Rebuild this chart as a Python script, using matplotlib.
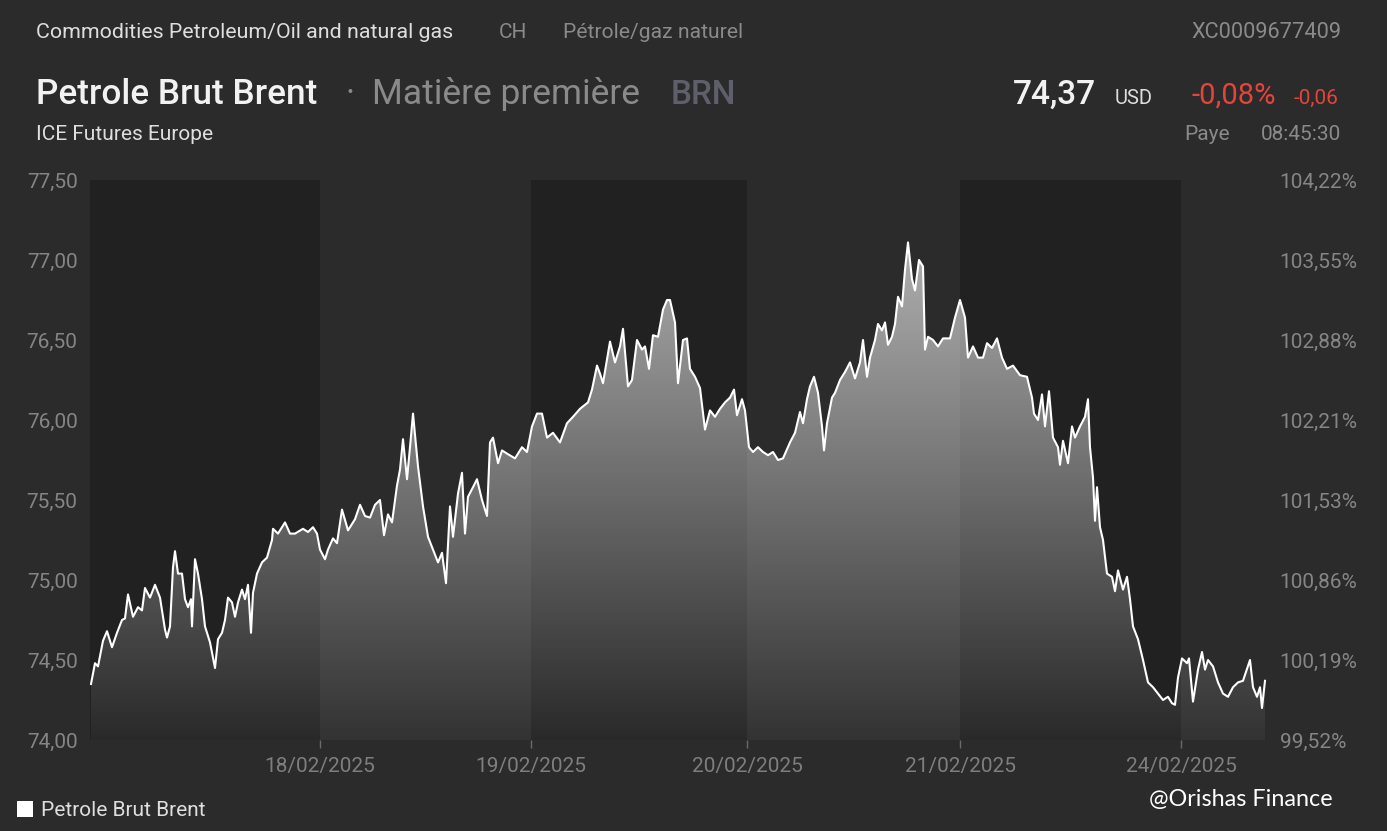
import numpy as np
import matplotlib
matplotlib.use("Agg")
import matplotlib.pyplot as plt
from matplotlib.patches import Polygon, Rectangle
from matplotlib.ticker import FixedLocator, FuncFormatter

plt.rcParams['font.family'] = ['Roboto', 'DejaVu Sans']

# trading time in ~6 minute steps since the 17/02 open, and Brent price (USD)
t = [1, 5, 8, 13, 17, 22, 27, 32, 35, 38, 43, 48, 52, 55, 60, 65, 70, 75, 77, 80,
     83, 85, 88, 92, 95, 98, 101, 102, 105, 108, 112, 115, 120, 125, 128, 132, 135, 138, 142, 145,
     148, 152, 155, 158, 161, 163, 167, 172, 177, 182, 183, 188, 195, 200, 205, 213, 218, 223, 227, 230,
     235, 238, 243, 247, 252, 258, 265, 270, 275, 280, 285, 290, 294, 298, 302, 307, 310, 313, 317, 320,
     323, 328, 333, 338, 343, 348, 352, 356, 360, 363, 368, 372, 375, 378, 383, 387, 392, 397, 400, 403,
     408, 412, 417, 425, 432, 437, 442, 447, 452, 457, 463, 470, 477, 483, 490, 498, 502, 507, 510, 513,
     517, 520, 525, 530, 533, 538, 542, 547, 552, 555, 559, 563, 568, 573, 577, 580, 585, 588, 593, 597,
     600, 605, 610, 615, 620, 625, 630, 635, 640, 644, 647, 652, 655, 659, 663, 668, 673, 678, 683, 688,
     693, 700, 705, 710, 713, 717, 720, 724, 728, 732, 734, 737, 742, 745, 750, 755, 760, 765, 770, 773,
     777, 780, 785, 788, 792, 795, 798, 802, 805, 808, 812, 815, 818, 822, 825, 829, 833, 835, 838, 843,
     848, 853, 860, 865, 870, 875, 878, 883, 888, 893, 897, 902, 907, 912, 917, 923, 930, 937, 942, 944,
     948, 952, 955, 959, 963, 968, 970, 973, 978, 982, 985, 990, 995, 998, 1000, 1003, 1005, 1007, 1010, 1013,
     1017, 1022, 1025, 1028, 1033, 1037, 1040, 1043, 1048, 1053, 1058, 1063, 1068, 1073, 1078, 1082, 1085, 1088, 1092, 1097,
     1099, 1103, 1108, 1112, 1115, 1118, 1123, 1128, 1133, 1138, 1143, 1148, 1153, 1160, 1163, 1167, 1170, 1172, 1175]
price = [74.35, 74.48, 74.46, 74.62, 74.68, 74.58, 74.67, 74.75, 74.76, 74.91, 74.77, 74.83, 74.81, 74.95, 74.89, 74.97, 74.89, 74.69, 74.64, 74.71,
         75.08, 75.18, 75.04, 75.04, 74.88, 74.83, 74.88, 74.71, 75.13, 75.04, 74.88, 74.71, 74.61, 74.45, 74.63, 74.67, 74.75, 74.89, 74.86, 74.77,
         74.86, 74.94, 74.88, 74.97, 74.67, 74.92, 75.04, 75.11, 75.14, 75.25, 75.32, 75.29, 75.36, 75.29, 75.29, 75.32, 75.30, 75.33, 75.29, 75.19,
         75.13, 75.19, 75.26, 75.23, 75.44, 75.31, 75.38, 75.47, 75.40, 75.39, 75.47, 75.50, 75.28, 75.41, 75.36, 75.59, 75.69, 75.88, 75.63, 75.83,
         76.04, 75.71, 75.46, 75.27, 75.19, 75.11, 75.17, 74.98, 75.46, 75.27, 75.54, 75.67, 75.29, 75.52, 75.58, 75.63, 75.50, 75.40, 75.86, 75.89,
         75.73, 75.81, 75.79, 75.76, 75.83, 75.80, 75.96, 76.04, 76.04, 75.89, 75.92, 75.86, 75.98, 76.02, 76.07, 76.11, 76.19, 76.34, 76.29, 76.23,
         76.38, 76.49, 76.36, 76.46, 76.57, 76.21, 76.25, 76.50, 76.44, 76.46, 76.32, 76.53, 76.52, 76.69, 76.75, 76.75, 76.61, 76.23, 76.50, 76.51,
         76.32, 76.27, 76.20, 75.94, 76.06, 76.02, 76.07, 76.11, 76.14, 76.19, 76.03, 76.13, 76.06, 75.83, 75.80, 75.83, 75.80, 75.78, 75.80, 75.75,
         75.76, 75.86, 75.92, 76.05, 75.98, 76.13, 76.21, 76.27, 76.17, 75.96, 75.81, 75.98, 76.14, 76.17, 76.25, 76.30, 76.36, 76.26, 76.36, 76.50,
         76.27, 76.39, 76.50, 76.60, 76.56, 76.61, 76.47, 76.52, 76.60, 76.77, 76.71, 76.94, 77.11, 76.88, 76.81, 77.00, 76.96, 76.44, 76.52, 76.50,
         76.46, 76.51, 76.51, 76.64, 76.75, 76.64, 76.39, 76.46, 76.39, 76.39, 76.48, 76.45, 76.51, 76.39, 76.32, 76.34, 76.28, 76.27, 76.14, 76.04,
         76.00, 76.16, 75.96, 76.18, 75.89, 75.83, 75.72, 75.87, 75.73, 75.96, 75.89, 75.96, 76.02, 76.13, 75.83, 75.64, 75.37, 75.58, 75.33, 75.25,
         75.04, 75.02, 74.93, 75.06, 74.94, 75.02, 74.88, 74.71, 74.63, 74.50, 74.36, 74.33, 74.29, 74.25, 74.27, 74.23, 74.22, 74.39, 74.51, 74.48,
         74.51, 74.24, 74.44, 74.55, 74.44, 74.50, 74.46, 74.36, 74.29, 74.27, 74.33, 74.36, 74.37, 74.50, 74.33, 74.27, 74.33, 74.20, 74.37]

session_edges = [0, 230, 441, 657, 870, 1091, 1177]
day_labels = ['18/02/2025', '19/02/2025', '20/02/2025', '21/02/2025', '24/02/2025']
y_ticks = [74.0, 74.5, 75.0, 75.5, 76.0, 76.5, 77.0, 77.5]
ref_price = 74.36

BG = '#2b2b2b'
DARK = '#212121'
W, H = 1387, 831

fig = plt.figure(figsize=(W / 100, H / 100), dpi=100, facecolor=BG)


def px(x, y):
    return x / W, 1 - y / H


ax = fig.add_axes([90 / W, 1 - 740 / H, (1267 - 90) / W, (740 - 180) / H])
ax.set_facecolor(BG)
ax.set_xlim(session_edges[0], session_edges[-1])
ax.set_ylim(y_ticks[0], y_ticks[-1])

# alternating day bands
for i in range(len(session_edges) - 1):
    if i % 2 == 0:
        ax.axvspan(session_edges[i], session_edges[i + 1], color=DARK, lw=0, zorder=0)

# gradient fill under the line
grad = np.zeros((256, 1, 4))
grad[..., :3] = 1.0
grad[:, 0, 3] = np.linspace(0.04, 0.70, 256)
im = ax.imshow(grad, origin='lower', aspect='auto', zorder=2,
               extent=[session_edges[0], session_edges[-1], y_ticks[0], y_ticks[-1]])
verts = np.column_stack([np.r_[t[0], t, t[-1]], np.r_[y_ticks[0], price, y_ticks[0]]])
clip = Polygon(verts, closed=True, facecolor='none', edgecolor='none')
ax.add_patch(clip)
im.set_clip_path(clip)

ax.plot(t, price, color='white', lw=1.5, zorder=3, solid_joinstyle='round')

for s in ax.spines.values():
    s.set_visible(False)

ax.set_xticks(session_edges[1:-1])
ax.set_xticklabels(day_labels)
ax.tick_params(axis='x', length=6, width=1, color='#6a6a6a', labelcolor='#7e7e7e',
               labelsize=15, pad=6)
ax.set_yticks(y_ticks)
ax.set_yticklabels([f'{v:.2f}'.replace('.', ',') for v in y_ticks])
ax.tick_params(axis='y', length=0, labelcolor='#858585', labelsize=15, pad=9)

sec = ax.secondary_yaxis('right', functions=(lambda v: v / ref_price * 100,
                                             lambda p: p * ref_price / 100))
sec.yaxis.set_major_locator(FixedLocator([v / ref_price * 100 for v in y_ticks]))
sec.yaxis.set_major_formatter(FuncFormatter(lambda p, _: f'{p:.2f}%'.replace('.', ',')))
sec.tick_params(length=0, labelcolor='#858585', labelsize=15, pad=9)
for s in sec.spines.values():
    s.set_visible(False)

# header
LIGHT = '#dedede'
GRAY = '#8a8a8a'
fig.text(*px(36, 38), 'Commodities Petroleum/Oil and natural gas', color=LIGHT, fontsize=15.4, va='baseline')
fig.text(*px(499, 38), 'CH', color=GRAY, fontsize=15, va='baseline')
fig.text(*px(563, 38), 'Pétrole/gaz naturel', color=GRAY, fontsize=15.2, va='baseline')
fig.text(*px(1341, 38), 'XC0009677409', color=GRAY, fontsize=15.7, va='baseline', ha='right')

fig.text(*px(36, 104), 'Petrole Brut Brent', color='#f2f2f2', fontsize=25.3, fontweight='medium', va='baseline')
fig.text(*px(346, 104), '·', color=GRAY, fontsize=25, va='baseline')
fig.text(*px(372, 104), 'Matière première', color=GRAY, fontsize=25.5, va='baseline')
fig.text(*px(671, 104), 'BRN', color='#5f5e6b', fontsize=24, fontweight='medium', va='baseline')
fig.text(*px(1096, 104), '74,37', color='#f2f2f2', fontsize=24, fontweight='medium', va='baseline', ha='right')
fig.text(*px(1115, 104), 'USD', color=LIGHT, fontsize=14.5, va='baseline')
fig.text(*px(1276, 104), '-0,08%', color='#e4443a', fontsize=21, va='baseline', ha='right')
fig.text(*px(1338, 104), '-0,06', color='#e4443a', fontsize=15, va='baseline', ha='right')

fig.text(*px(36, 140), 'ICE Futures Europe', color=LIGHT, fontsize=15, va='baseline')
fig.text(*px(1184, 140), 'Paye', color=GRAY, fontsize=15, va='baseline')
fig.text(*px(1341, 140), '08:45:30', color=GRAY, fontsize=15, va='baseline', ha='right')

# legend
fig.patches.append(Rectangle(px(17, 817), 16 / W, 16 / H, transform=fig.transFigure,
                             facecolor='white', edgecolor='none'))
fig.text(*px(41, 816), 'Petrole Brut Brent', color=LIGHT, fontsize=15, va='baseline')

fig.text(*px(1149, 806), '@Orishas Finance', color='white', fontsize=16.8,
         family=['Lato', 'DejaVu Sans'], va='baseline')

fig.savefig('out.png', dpi=100, facecolor=BG)
